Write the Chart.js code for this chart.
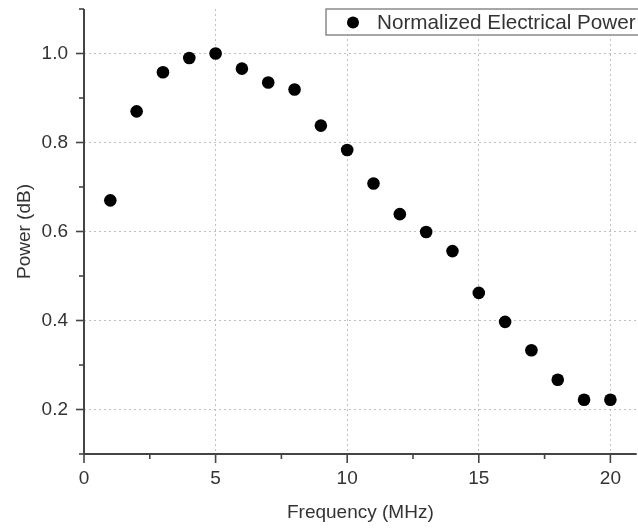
<!DOCTYPE html>
<html>
<head>
<meta charset="utf-8">
<script src="https://cdn.jsdelivr.net/npm/chart.js@4"></script>
<style>
  html, body { margin: 0; padding: 0; background: #fff; overflow: hidden; }
  #wrap { width: 638px; height: 529px; overflow: hidden; }
</style>
</head>
<body>
<div id="wrap"><canvas id="chart" width="643" height="529"></canvas></div>
<script>
// Dados
const frequencies = [1, 2, 3, 4, 5, 6, 7, 8, 9, 10, 11, 12, 13, 14, 15, 16, 17, 18, 19, 20];
const powerValues = [0.670, 0.870, 0.958, 0.990, 1.000, 0.966, 0.935, 0.919, 0.838, 0.783,
                     0.708, 0.639, 0.599, 0.556, 0.462, 0.397, 0.333, 0.267, 0.222, 0.222];
const xTickValues = [0, 2.5, 5, 7.5, 10, 12.5, 15, 17.5, 20];
const yTickValues = [0.1, 0.2, 0.3, 0.4, 0.5, 0.6, 0.7, 0.8, 0.9, 1.0, 1.1];
const seriesLabel = 'Normalized Electrical Power';
const xTitle = 'Frequency (MHz)';
const yTitle = 'Power (dB)';

const FONT = '"Liberation Sans", Arial, sans-serif';
const TEXT = '#333333';
const AXIS = '#444444';
const GRID = 'rgba(185, 185, 185, 0.9)';

const isMajorY = v => Math.round(v * 10) % 2 === 0;
const isMajorX = v => Math.abs(v % 5) < 1e-9;

// Eixos (linha + marcas maiores/menores)
const axesPlugin = {
    id: 'axesTicks',
    afterDatasetsDraw(chart) {
        const { ctx, chartArea: a, scales: { x, y } } = chart;
        ctx.save();
        ctx.strokeStyle = AXIS;
        ctx.lineWidth = 2;
        ctx.beginPath();
        ctx.moveTo(a.left, a.top);
        ctx.lineTo(a.left, a.bottom);
        ctx.lineTo(a.right, a.bottom);
        ctx.stroke();
        ctx.lineWidth = 1.6;
        y.ticks.forEach(t => {
            const py = y.getPixelForValue(t.value);
            const len = isMajorY(t.value) ? 8 : 5;
            ctx.beginPath();
            ctx.moveTo(a.left - len, py);
            ctx.lineTo(a.left, py);
            ctx.stroke();
        });
        x.ticks.forEach(t => {
            const px = x.getPixelForValue(t.value);
            const len = isMajorX(t.value) ? 9 : 5;
            ctx.beginPath();
            ctx.moveTo(px, a.bottom);
            ctx.lineTo(px, a.bottom + len);
            ctx.stroke();
        });
        ctx.restore();
    }
};

// Legenda em caixa no canto superior direito
const legendPlugin = {
    id: 'boxLegend',
    afterDraw(chart) {
        const { ctx } = chart;
        ctx.save();
        ctx.fillStyle = '#fff';
        ctx.strokeStyle = '#8a8a8a';
        ctx.lineWidth = 1.5;
        ctx.fillRect(326, 9, 330, 26);
        ctx.strokeRect(326, 9, 330, 26);
        ctx.fillStyle = '#000';
        ctx.beginPath();
        ctx.arc(353, 22.5, 6, 0, Math.PI * 2);
        ctx.fill();
        ctx.fillStyle = TEXT;
        ctx.font = '20.7px ' + FONT;
        ctx.textBaseline = 'middle';
        ctx.fillText(seriesLabel, 377, 23);
        ctx.restore();
    }
};

const ctx = document.getElementById('chart').getContext('2d');
new Chart(ctx, {
    type: 'scatter',
    data: {
        datasets: [{
            label: seriesLabel,
            data: frequencies.map((f, i) => ({ x: f, y: powerValues[i] })),
            backgroundColor: '#000',
            borderWidth: 0,
            pointRadius: 6.3
        }]
    },
    options: {
        responsive: false,
        animation: false,
        layout: { padding: { top: 9, right: 0, left: 0, bottom: 0 } },
        plugins: { legend: { display: false }, tooltip: { enabled: false } },
        scales: {
            x: {
                type: 'linear',
                min: 0,
                max: 21,
                afterBuildTicks: s => { s.ticks = xTickValues.map(v => ({ value: v })); },
                afterFit: s => { s.height = 75; s.paddingLeft = 0; s.paddingRight = 0; },
                ticks: {
                    autoSkip: false,
                    maxRotation: 0,
                    padding: 13,
                    color: TEXT,
                    font: { family: FONT, size: 19 },
                    callback: v => (isMajorX(v) ? String(v) : '')
                },
                grid: {
                    drawTicks: false,
                    lineWidth: 1,
                    color: c => (c.tick && isMajorX(c.tick.value) && c.tick.value > 0 ? GRID : 'rgba(0,0,0,0)')
                },
                border: { display: false, dash: [2, 3] },
                title: {
                    display: true,
                    text: xTitle,
                    color: TEXT,
                    font: { family: FONT, size: 19 },
                    padding: { top: 0, bottom: 5 }
                }
            },
            y: {
                type: 'linear',
                min: 0.1,
                max: 1.1,
                afterBuildTicks: s => { s.ticks = yTickValues.map(v => ({ value: v })); },
                afterFit: s => { s.width = 84; s.paddingTop = 0; s.paddingBottom = 0; },
                ticks: {
                    autoSkip: false,
                    padding: 16,
                    color: TEXT,
                    font: { family: FONT, size: 19 },
                    callback: v => (isMajorY(v) ? v.toFixed(1) : '')
                },
                grid: {
                    drawTicks: false,
                    lineWidth: 1,
                    color: c => (c.tick && isMajorY(c.tick.value) ? GRID : 'rgba(0,0,0,0)')
                },
                border: { display: false, dash: [2, 3] },
                title: {
                    display: true,
                    text: yTitle,
                    color: TEXT,
                    font: { family: FONT, size: 19 },
                    padding: { top: 13, bottom: 0 }
                }
            }
        }
    },
    plugins: [axesPlugin, legendPlugin]
});
</script>
</body>
</html>
